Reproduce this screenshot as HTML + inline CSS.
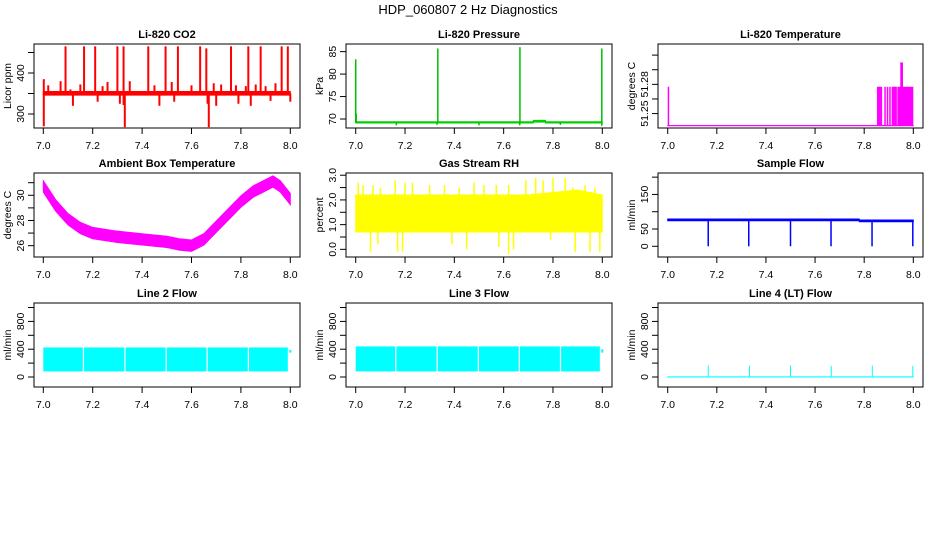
<!DOCTYPE html>
<html><head><meta charset="utf-8"><style>
html,body{margin:0;padding:0;background:#fff;}
svg{display:block;font-family:"Liberation Sans",sans-serif;}
</style></head><body>
<svg id="c" width="936" height="540" viewBox="0 0 936 540">
<rect width="936" height="540" fill="#fff"/>
<text x="468" y="14" text-anchor="middle" font-size="13">HDP_060807 2 Hz Diagnostics</text>
</svg>
<script>
// ---- data (hours 7.0 - 8.0) ----
const xTicks = [7.0, 7.2, 7.4, 7.6, 7.8, 8.0];
const xTickLabels = ["7.0", "7.2", "7.4", "7.6", "7.8", "8.0"];

const co2BandT = [7.0, 8.0];
const co2BandLo = [346, 346];
const co2BandHi = [355, 355];
const co2SpikeT = [7.09, 7.165, 7.21, 7.30, 7.325, 7.425, 7.495, 7.545, 7.635, 7.66, 7.76, 7.83, 7.88, 7.965, 7.99, 7.002, 7.002, 7.33, 7.67, 7.325, 7.665, 8.0, 7.02, 7.07, 7.11, 7.15, 7.24, 7.26, 7.35, 7.45, 7.52, 7.6, 7.69, 7.72, 7.78, 7.82, 7.86, 7.9, 7.94, 7.12, 7.22, 7.31, 7.47, 7.53, 7.7, 7.79, 7.84, 7.92];
const co2SpikeV = [465, 465, 465, 465, 465, 465, 465, 465, 465, 460, 465, 465, 465, 465, 465, 385, 270, 268, 268, 322, 325, 330, 370, 380, 360, 372, 368, 378, 380, 370, 378, 370, 375, 372, 370, 368, 372, 368, 375, 320, 330, 325, 320, 330, 320, 325, 320, 332];

const presBandT = [7.0, 7.72, 7.72, 7.77, 7.77, 8.0];
const presBandLo = [69.1, 69.1, 69.3, 69.3, 69.1, 69.1];
const presBandHi = [69.4, 69.4, 69.7, 69.7, 69.4, 69.4];
const presSpikeT = [7.0, 7.333, 7.666, 7.998, 7.165, 7.33, 7.5, 7.665, 7.83, 7.998, 7.002];
const presSpikeV = [83.3, 85.7, 86.0, 85.7, 68.6, 68.7, 68.6, 68.6, 68.7, 68.5, 71.2];

const tempBandT = [7.0, 8.0];
const tempBandLo = [51.2375, 51.2375];
const tempBandHi = [51.2378, 51.2378];
const tempSpikeT = [7.003, 7.855, 7.86, 7.865, 7.87, 7.885, 7.895, 7.905, 7.915, 7.92, 7.925, 7.93, 7.95, 7.955];
const tempSpikeV = [51.2775, 51.2775, 51.2775, 51.2775, 51.2775, 51.2775, 51.2775, 51.2775, 51.2775, 51.2775, 51.2775, 51.2775, 51.3025, 51.3025];
const tempBlockT = [7.935, 8.0];
const tempBlockV = [51.2775];

const ambT = [7.0, 7.05, 7.1, 7.15, 7.2, 7.3, 7.4, 7.5, 7.55, 7.6, 7.65, 7.7, 7.75, 7.8, 7.85, 7.9, 7.93, 7.96, 8.0];
const ambMid = [30.7, 29.2, 28.1, 27.4, 27.0, 26.7, 26.5, 26.3, 26.1, 26.0, 26.5, 27.5, 28.5, 29.5, 30.3, 30.8, 31.1, 30.7, 29.7];
const ambHalfWidth = [0.45];

const rhBandT = [7.0, 7.7, 7.9, 8.0];
const rhBandLo = [0.7, 0.7, 0.7, 0.7];
const rhBandHi = [2.2, 2.2, 2.4, 2.2];
const rhSpikeT = [7.01, 7.03, 7.07, 7.1, 7.16, 7.2, 7.23, 7.3, 7.36, 7.42, 7.48, 7.52, 7.57, 7.62, 7.69, 7.73, 7.76, 7.8, 7.85, 7.88, 7.93, 7.97, 7.06, 7.09, 7.17, 7.19, 7.39, 7.45, 7.58, 7.62, 7.64, 7.79, 7.89, 7.95, 7.99];
const rhSpikeV = [2.7, 2.6, 2.6, 2.5, 2.8, 2.7, 2.7, 2.6, 2.6, 2.5, 2.7, 2.6, 2.6, 2.6, 2.8, 2.9, 2.8, 2.9, 2.9, 2.5, 2.6, 2.5, -0.1, 0.2, -0.1, -0.1, 0.2, 0.0, 0.1, -0.2, 0.0, 0.4, -0.1, -0.1, -0.1];

const sfBandT = [7.0, 7.78, 7.78, 8.0];
const sfBandLo = [74, 74, 71, 71];
const sfBandHi = [79, 79, 76, 76];
const sfSpikeT = [7.165, 7.33, 7.5, 7.665, 7.832, 7.998];
const sfSpikeV = [0, 0, 0, 0, 0, 0];

const l2SegStart = [7.0, 7.165, 7.333, 7.5, 7.666, 7.833];
const l2SegEnd = [7.16, 7.328, 7.495, 7.661, 7.828, 7.99];
const l2Lo = [80];
const l2Hi = [425];
const l3SegStart = [7.0, 7.165, 7.333, 7.5, 7.666, 7.833];
const l3SegEnd = [7.16, 7.328, 7.495, 7.661, 7.828, 7.99];
const l3Lo = [80];
const l3Hi = [440];
const l4SpikeT = [7.165, 7.333, 7.5, 7.666, 7.833, 7.998];
const l4SpikeV = [165, 165, 165, 160, 165, 160];

const NS = "http://www.w3.org/2000/svg";
const svg = document.getElementById("c");
function el(tag, attrs, parent) {
  const e = document.createElementNS(NS, tag);
  for (const k in attrs) e.setAttribute(k, attrs[k]);
  (parent || svg).appendChild(e);
  return e;
}
const cols = [{bx:34, bw:266, x0:43.3, x1:290.3}, {bx:346, bw:266, x0:355.7, x1:602.3}, {bx:658, bw:265, x0:667.7, x1:913.3}];
const rows = [{by:44, bh:84}, {by:173, bh:84}, {by:303, bh:84}];

function panel(name, title, ci, ri, ylo, yhi, yticks, ylabels, ylab, draw) {
  const c = cols[ci], r = rows[ri];
  const g = el("g", {});
  
  
  const sx = t => c.x0 + (t - 7) * (c.x1 - c.x0);
  const sy = v => r.by + r.bh - (v - ylo) / (yhi - ylo) * r.bh;
  const t = el("text", {x: c.bx + c.bw/2, y: r.by - 6, "text-anchor":"middle", "font-size":"11", "font-weight":"bold"}, g);
  t.textContent = title;
  
  
  const plot = el("g", {}, g);
  
  
  draw(plot, sx, sy);
  el("rect", {x:c.bx, y:r.by, width:c.bw, height:r.bh, fill:"none", stroke:"#000", "stroke-width":1}, g);
  const xa = el("g", {}, g);
  
  
  xTicks.forEach((v, i) => {
    const x = sx(v);
    el("line", {x1:x, x2:x, y1:r.by+r.bh, y2:r.by+r.bh+6, stroke:"#000"}, xa);
    const tl = el("text", {x:x, y:r.by+r.bh+21, "text-anchor":"middle", "font-size":"10.5"}, xa);
    tl.textContent = xTickLabels[i];
  });
  const ya = el("g", {}, g);
  
  
  yticks.forEach((v, i) => {
    const y = sy(v);
    el("line", {x1:c.bx-6, x2:c.bx, y1:y, y2:y, stroke:"#000"}, ya);
    if (ylabels[i]) {
      const tl = el("text", {x:c.bx-10, y:y, "text-anchor":"middle", "font-size":"10.5", transform:`rotate(-90 ${c.bx-10} ${y})`}, ya);
      tl.textContent = ylabels[i];
    }
  });
  const yl = el("text", {x:c.bx-23, y:r.by+r.bh/2, "text-anchor":"middle", "font-size":"10.5", transform:`rotate(-90 ${c.bx-23} ${r.by+r.bh/2})`}, g);
  yl.textContent = ylab;
  
  
}
function band(p, sx, sy, T, lo, hi, col) {
  let pts = T.map((t,i)=>sx(t)+","+sy(hi[i]));
  pts = pts.concat(T.map((t,i)=>sx(t)+","+sy(lo[i])).reverse());
  const e = el("polygon", {points:pts.join(" "), fill:col, stroke:col, "stroke-width":1}, p);
  
  
}
function spikes(p, sx, sy, T, V, base, col, w) {
  T.forEach((t,i)=>{
    const e = el("line", {x1:sx(t), x2:sx(t), y1:sy(base), y2:sy(V[i]), stroke:col, "stroke-width":w||1.5}, p);
    
    
  });
}

panel("co2-panel", "Li-820 CO2", 0, 0, 265.9, 470.7, [300,350,400,450], ["300","","400",""], "Licor ppm", (p,sx,sy)=>{
  band(p,sx,sy,co2BandT,co2BandLo,co2BandHi,"#f00");
  spikes(p,sx,sy,co2SpikeT,co2SpikeV,350,"#f00",2);
});
panel("pressure-panel", "Li-820 Pressure", 1, 0, 68, 86.7, [70,75,80,85], ["70","75","80","85"], "kPa", (p,sx,sy)=>{
  band(p,sx,sy,presBandT,presBandLo,presBandHi,"#00d000");
  spikes(p,sx,sy,presSpikeT,presSpikeV,69.3,"#00c000",1.5);
});
panel("temperature-panel", "Li-820 Temperature", 2, 0, 51.2352, 51.3214, [51.25,51.265,51.28,51.295,51.31], ["51.25","","51.28","",""], "degrees C", (p,sx,sy)=>{
  band(p,sx,sy,tempBandT,tempBandLo,tempBandHi,"#f0f");
  spikes(p,sx,sy,tempSpikeT,tempSpikeV,51.2375,"#f0f",1.5);
  const b = el("rect",{x:sx(tempBlockT[0]),y:sy(tempBlockV[0]),width:sx(tempBlockT[1])-sx(tempBlockT[0]),height:sy(51.2375)-sy(tempBlockV[0]),fill:"#f0f"},p);
  
  
});
panel("ambient-panel", "Ambient Box Temperature", 0, 1, 25.1, 31.77, [26,27,28,29,30,31], ["26","","28","","30",""], "degrees C", (p,sx,sy)=>{
  band(p,sx,sy,ambT,ambMid.map(v=>v-ambHalfWidth[0]),ambMid.map(v=>v+ambHalfWidth[0]),"#f0f");
});
panel("rh-panel", "Gas Stream RH", 1, 1, -0.31, 3.09, [0,0.5,1,1.5,2,2.5,3], ["0.0","","1.0","","2.0","","3.0"], "percent", (p,sx,sy)=>{
  band(p,sx,sy,rhBandT,rhBandLo,rhBandHi,"#ff0");
  spikes(p,sx,sy,rhSpikeT,rhSpikeV,1.4,"#ff0",1.5);
});
panel("sample-flow-panel", "Sample Flow", 2, 1, -31, 212, [0,50,100,150,200], ["0","50","","150",""], "ml/min", (p,sx,sy)=>{
  band(p,sx,sy,sfBandT,sfBandLo,sfBandHi,"#00f");
  spikes(p,sx,sy,sfSpikeT,sfSpikeV,76,"#00f",1.5);
});
function segs(p,sx,sy,S,E,lo,hi,col){
  S.forEach((s,i)=>{
    const e = el("rect",{x:sx(s),y:sy(hi[0]),width:sx(E[i])-sx(s),height:sy(lo[0])-sy(hi[0]),fill:col},p);
    
    
  });
}
panel("line2-panel", "Line 2 Flow", 0, 2, -144, 1065, [0,200,400,600,800,1000], ["0","","400","","800",""], "ml/min", (p,sx,sy)=>{
  segs(p,sx,sy,l2SegStart,l2SegEnd,l2Lo,l2Hi,"#0ff");
  spikes(p,sx,sy,[8.0],[390],350,"#0ff",2);
});
panel("line3-panel", "Line 3 Flow", 1, 2, -144, 1065, [0,200,400,600,800,1000], ["0","","400","","800",""], "ml/min", (p,sx,sy)=>{
  segs(p,sx,sy,l3SegStart,l3SegEnd,l3Lo,l3Hi,"#0ff");
  spikes(p,sx,sy,[8.0],[400],350,"#0ff",2);
});
panel("line4-panel", "Line 4 (LT) Flow", 2, 2, -144, 1065, [0,200,400,600,800,1000], ["0","","400","","800",""], "ml/min", (p,sx,sy)=>{
  band(p,sx,sy,[7.0,8.0],[0,0],[2,2],"#0ff");
  spikes(p,sx,sy,l4SpikeT,l4SpikeV,0,"#0ff",1);
});
</script>
</body></html>
